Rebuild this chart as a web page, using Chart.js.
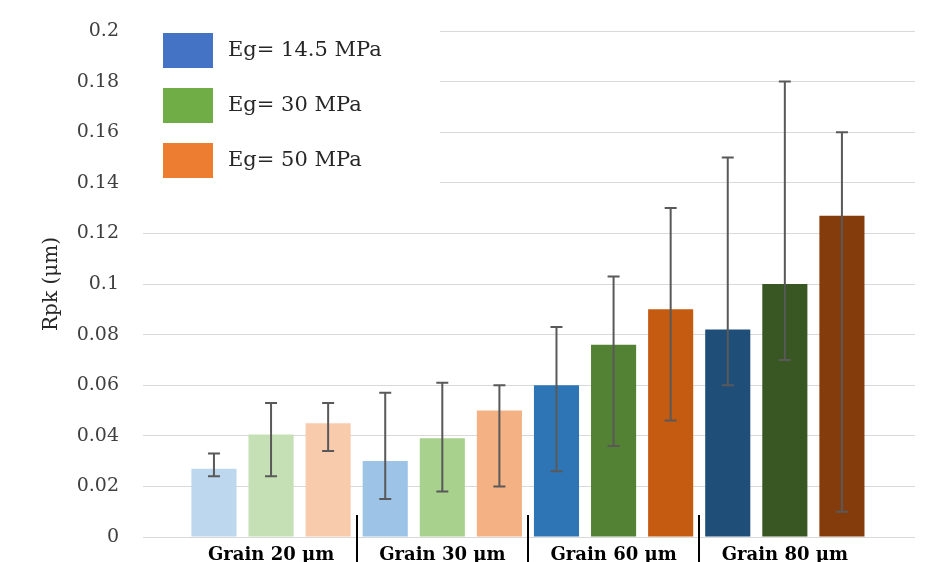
<!DOCTYPE html>
<html>
<head>
  <title>Rpk by grain</title>
  <script src="https://cdn.jsdelivr.net/npm/chart.js"></script>
  <style>
    body { margin: 0; background: #fff; }
  </style>
</head>
<body>
<canvas id="myChart" width="926" height="562"></canvas>
<script>
  // data
  const groups = ['Grain 20 μm', 'Grain 30 μm', 'Grain 60 μm', 'Grain 80 μm'];
  const seriesNames = ['Eg= 14.5 MPa', 'Eg= 30 MPa', 'Eg= 50 MPa'];

  const eg145 = [0.027, 0.030, 0.060, 0.082];
  const eg30 = [0.0405, 0.039, 0.076, 0.100];
  const eg50 = [0.045, 0.050, 0.090, 0.127];

  // error bar ends (low / high)
  const eg145Low = [0.024, 0.015, 0.026, 0.060];
  const eg145High = [0.033, 0.057, 0.083, 0.150];
  const eg30Low = [0.024, 0.018, 0.036, 0.070];
  const eg30High = [0.053, 0.061, 0.103, 0.180];
  const eg50Low = [0.034, 0.020, 0.046, 0.010];
  const eg50High = [0.053, 0.060, 0.130, 0.160];

  const yTicks = [0, 0.02, 0.04, 0.06, 0.08, 0.1, 0.12, 0.14, 0.16, 0.18, 0.2];

  const legendColors = ['#4472C4', '#70AD47', '#ED7D31'];
  const barColors = [
    ['#BDD7EE', '#9DC3E6', '#2E75B6', '#1F4E79'],
    ['#C5E0B4', '#A9D18E', '#548235', '#385723'],
    ['#F8CBAD', '#F4B183', '#C55A11', '#843C0C']
  ];

  const values = [eg145, eg30, eg50];
  const lows = [eg145Low, eg30Low, eg50Low];
  const highs = [eg145High, eg30High, eg50High];

  const serif = '"DejaVu Serif", serif';

  const datasets = seriesNames.map((name, s) => ({
    label: name,
    data: values[s].map((v, g) => ({ x: g * 3 + s, y: v, lo: lows[s][g], hi: highs[s][g] })),
    backgroundColor: barColors[s],
    grouped: false,
    barPercentage: 0.79,
    categoryPercentage: 1
  }));

  const extras = {
    id: 'extras',
    afterDatasetsDraw(chart) {
      const ctx = chart.ctx;
      const x = chart.scales.x, y = chart.scales.y;
      ctx.save();
      // error bars
      ctx.strokeStyle = '#595959';
      ctx.lineWidth = 2;
      chart.data.datasets.forEach(ds => {
        ds.data.forEach(p => {
          const px = x.getPixelForValue(p.x);
          const y1 = y.getPixelForValue(p.lo), y2 = y.getPixelForValue(p.hi);
          ctx.beginPath();
          ctx.moveTo(px, y1); ctx.lineTo(px, y2);
          ctx.moveTo(px - 6, y1); ctx.lineTo(px + 6, y1);
          ctx.moveTo(px - 6, y2); ctx.lineTo(px + 6, y2);
          ctx.stroke();
        });
      });
      // group separators
      ctx.strokeStyle = '#000';
      ctx.lineWidth = 2;
      for (let g = 1; g < groups.length; g++) {
        const px = Math.round(x.getPixelForValue(g * 3 - 0.5));
        ctx.beginPath();
        ctx.moveTo(px, chart.chartArea.bottom - 22);
        ctx.lineTo(px, chart.height);
        ctx.stroke();
      }
      ctx.restore();
    },
    afterDraw(chart) {
      const ctx = chart.ctx;
      const a = chart.chartArea;
      ctx.save();
      ctx.fillStyle = '#fff';
      ctx.fillRect(a.left, a.top - 6, 297, 165);
      ctx.font = '21px ' + serif;
      ctx.textBaseline = 'middle';
      seriesNames.forEach((name, i) => {
        const top = a.top + 2 + i * 55;
        ctx.fillStyle = legendColors[i];
        ctx.fillRect(a.left + 20, top, 50, 35);
        ctx.fillStyle = '#262626';
        ctx.fillText(name, a.left + 85, top + 18);
      });
      ctx.restore();
    }
  };

  new Chart(document.getElementById('myChart').getContext('2d'), {
    type: 'bar',
    data: { datasets: datasets },
    options: {
      responsive: false,
      animation: false,
      devicePixelRatio: 1,
      layout: { padding: { left: 40, right: 11, top: 31, bottom: 0 } },
      plugins: { legend: { display: false }, tooltip: { enabled: false } },
      scales: {
        x: {
          type: 'linear',
          min: -1.243,
          max: 12.28,
          offset: false,
          grid: { display: false, offset: false },
          border: { display: false },
          afterBuildTicks: s => { s.ticks = groups.map((g, i) => ({ value: i * 3 + 1 })); },
          afterFit: s => { s.height = 25; },
          ticks: {
            autoSkip: false,
            maxRotation: 0,
            padding: 0,
            color: '#000',
            font: { family: serif, size: 18, weight: 'bold' },
            callback: v => groups[(v - 1) / 3]
          }
        },
        y: {
          min: 0,
          max: 0.2,
          afterBuildTicks: s => { s.ticks = yTicks.map(v => ({ value: v })); },
          afterFit: s => { s.width = 103; },
          grid: { color: '#D9D9D9', lineWidth: 1, drawTicks: true, tickLength: 24, tickColor: 'rgba(0,0,0,0)' },
          border: { display: false },
          ticks: {
            padding: 0,
            color: '#404040',
            font: { family: serif, size: 19 },
            callback: v => String(+v.toFixed(2))
          },
          title: {
            display: true,
            text: 'Rpk (μm)',
            color: '#262626',
            padding: 0,
            font: { family: serif, size: 20 }
          }
        }
      }
    },
    plugins: [extras]
  });
</script>
</body>
</html>
